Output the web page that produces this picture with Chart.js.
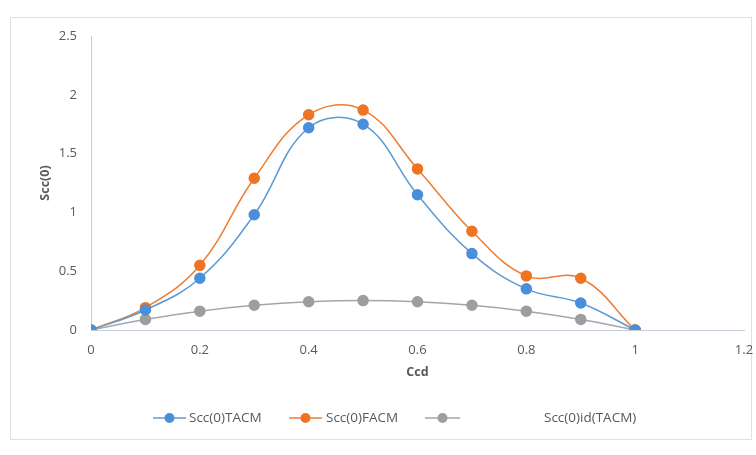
<!DOCTYPE html>
<html>
<head>
<meta charset="utf-8">
<script src="https://cdn.jsdelivr.net/npm/chart.js@4"></script>
<style>
  html, body { margin: 0; padding: 0; background: #ffffff; }
  #wrap { position: relative; width: 756px; height: 455px; }
  #frame { position: absolute; left: 10px; top: 17px; width: 742px; height: 423px; border: 1px solid #e0e0e0; box-sizing: border-box; }
  canvas { position: absolute; left: 0; top: 0; }
</style>
</head>
<body>
<div id="wrap">
  <div id="frame"></div>
  <canvas id="c" width="756" height="455"></canvas>
</div>
<script>
const ccd = [0, 0.1, 0.2, 0.3, 0.4, 0.5, 0.6, 0.7, 0.8, 0.9, 1.0];
const sccTACM = [0, 0.17, 0.44, 0.98, 1.72, 1.75, 1.15, 0.65, 0.35, 0.23, 0];
const sccFACM = [0, 0.19, 0.55, 1.29, 1.83, 1.87, 1.37, 0.84, 0.46, 0.44, 0];
const sccIdTACM = [0, 0.09, 0.16, 0.21, 0.24, 0.25, 0.24, 0.21, 0.16, 0.09, 0];
const seriesNames = ['Scc(0)TACM', 'Scc(0)FACM', 'Scc(0)id(TACM)'];
const seriesColors = ['#5B9BD5', '#ED7D31', '#A5A5A5'];
const pointColors = ['#4A8FDB', '#EE7424', '#9E9E9E'];
const xTicks = [0, 0.2, 0.4, 0.6, 0.8, 1, 1.2];
const yTicks = [0, 0.5, 1, 1.5, 2, 2.5];

const FONT = '"Open Sans", "Noto Sans", sans-serif';
const TXT = '#595959';

function mk(vals, i) {
  return {
    label: seriesNames[i],
    data: ccd.map((x, k) => ({ x: x, y: vals[k] })),
    borderColor: seriesColors[i],
    backgroundColor: pointColors[i],
    pointBackgroundColor: pointColors[i],
    pointBorderColor: pointColors[i],
    borderWidth: 1.5,
    pointRadius: 5,
    pointHoverRadius: 5,
    tension: 0.4,
    cubicInterpolationMode: 'default',
    fill: false
  };
}

// legend drawn on canvas (layout positions only)
const legendPos = [
  { line0: 153, line1: 186, text: 189 },
  { line0: 289, line1: 322, text: 326 },
  { line0: 425, line1: 460, text: 544 }
];
const legendPlugin = {
  id: 'customLegend',
  afterDraw(chart) {
    const ctx = chart.ctx;
    const y = 418;
    ctx.save();
    chart.data.datasets.forEach((ds, i) => {
      const p = legendPos[i];
      ctx.strokeStyle = ds.borderColor;
      ctx.lineWidth = 1.5;
      ctx.beginPath();
      ctx.moveTo(p.line0, y);
      ctx.lineTo(p.line1, y);
      ctx.stroke();
      ctx.fillStyle = ds.pointBackgroundColor;
      ctx.beginPath();
      ctx.arc((p.line0 + p.line1) / 2, y, 5, 0, Math.PI * 2);
      ctx.fill();
      ctx.fillStyle = TXT;
      ctx.font = '13.5px ' + FONT;
      ctx.textBaseline = 'middle';
      ctx.textAlign = 'left';
      ctx.fillText(ds.label, p.text, y);
    });
    ctx.restore();
  }
};

new Chart(document.getElementById('c'), {
  type: 'line',
  data: { datasets: [mk(sccTACM, 0), mk(sccFACM, 1), mk(sccIdTACM, 2)] },
  options: {
    responsive: false,
    animation: false,
    events: [],
    layout: { padding: { left: 34, right: 12, top: 36, bottom: 71 } },
    plugins: { legend: { display: false }, tooltip: { enabled: false } },
    scales: {
      x: {
        type: 'linear',
        min: 0, max: 1.2,
        afterBuildTicks: s => { s.ticks = xTicks.map(v => ({ value: v })); },
        afterFit: s => { s.height = 54; s.paddingRight = 0; s.paddingLeft = 0; },
        grid: { display: false, drawTicks: false },
        border: { display: true, color: '#C5CCDA', width: 1 },
        ticks: {
          color: TXT, font: { family: FONT, size: 13 }, padding: 12,
          callback: v => String(Math.round(v * 10) / 10)
        },
        title: { display: true, text: 'Ccd', color: TXT, font: { family: FONT, size: 12.5, weight: 'bold' }, padding: 4 }
      },
      y: {
        type: 'linear',
        min: 0, max: 2.5,
        afterBuildTicks: s => { s.ticks = yTicks.map(v => ({ value: v })); },
        afterFit: s => { s.width = 57; s.paddingTop = 0; s.paddingBottom = 0; },
        grid: { display: false, drawTicks: false },
        border: { display: true, color: '#C5CCDA', width: 1 },
        ticks: {
          color: TXT, font: { family: FONT, size: 13 }, padding: 14,
          callback: v => String(Math.round(v * 10) / 10)
        },
        title: { display: true, text: 'Scc(0)', color: TXT, font: { family: FONT, size: 12.5, weight: 'bold' }, padding: 4 }
      }
    }
  },
  plugins: [legendPlugin]
});
</script>
</body>
</html>
